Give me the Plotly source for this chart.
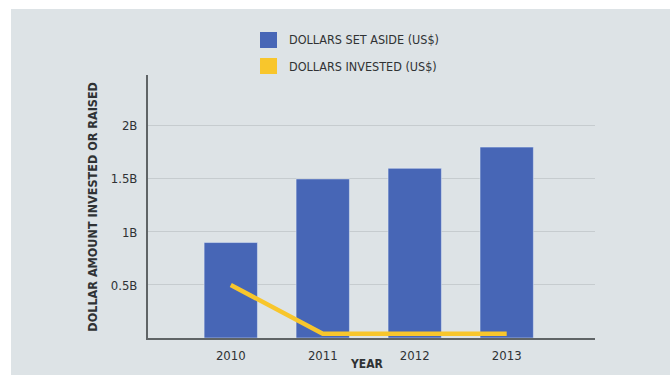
import plotly.graph_objects as go

# Chart data (billions of US dollars)
years = ["2010", "2011", "2012", "2013"]
set_aside = [0.9, 1.5, 1.6, 1.8]
invested = [0.5, 0.04, 0.04, 0.04]
y_tick_vals = [0.5, 1.0, 1.5, 2.0]
y_tick_text = ["0.5B", "1B", "1.5B", "2B"]
legend_names = ["DOLLARS SET ASIDE (US$)", "DOLLARS INVESTED (US$)"]

BLUE = "#4766b6"
YELLOW = "#f8c62c"
BG = "#dde3e6"
TEXT = "#2f3234"
FONT = "DejaVu Sans Condensed, Roboto, sans-serif"

fig = go.Figure()
fig.add_trace(go.Bar(x=years, y=set_aside, marker_color=BLUE, width=0.58,
                     name=legend_names[0], showlegend=False))
fig.add_trace(go.Scatter(x=years, y=invested, mode="lines",
                         line=dict(color=YELLOW, width=4.5),
                         name=legend_names[1], showlegend=False))

# Legend swatches and labels
shapes = []
annotations = []
for i, (name, color) in enumerate(zip(legend_names, [BLUE, YELLOW])):
    y0 = 1.1027 - i * 0.0989
    shapes.append(dict(type="rect", xref="paper", yref="paper",
                       x0=0.2506, x1=0.2886, y0=y0, y1=y0 + 0.0608,
                       fillcolor=color, line_width=0))
    annotations.append(dict(text=name, xref="paper", yref="paper",
                            x=0.311, y=y0 + 0.0304, xanchor="left", yanchor="middle",
                            showarrow=False, font=dict(size=12.5, color=TEXT, family=FONT)))

# White frame strips on the top and left edges
shapes.append(dict(type="rect", xref="paper", yref="paper", x0=-0.34, x1=1.2,
                   y0=1.251, y1=1.3, fillcolor="white", line_width=0, layer="above"))
shapes.append(dict(type="rect", xref="paper", yref="paper", x0=-0.34, x1=-0.3065,
                   y0=-0.2, y1=1.3, fillcolor="white", line_width=0, layer="above"))

annotations.append(dict(text="<b>DOLLAR AMOUNT INVESTED OR RAISED</b>", xref="paper",
                        yref="paper", x=-0.125, y=0.5, textangle=-90,
                        xanchor="center", yanchor="middle", showarrow=False,
                        font=dict(size=12.5, color=TEXT, family=FONT)))
annotations.append(dict(text="<b>YEAR</b>", xref="paper", yref="paper",
                        x=0.49, y=-0.1, xanchor="center", yanchor="middle",
                        showarrow=False, font=dict(size=12, color=TEXT, family=FONT)))

fig.update_layout(
    width=670, height=375,
    margin=dict(l=148, r=75, t=75, b=37),
    paper_bgcolor=BG, plot_bgcolor=BG,
    font=dict(family=FONT, color=TEXT, size=13),
    shapes=shapes, annotations=annotations,
    showlegend=False,
)
fig.update_xaxes(type="category", range=[-0.9, 3.96], showgrid=False,
                 showline=True, linecolor="#5f6466", linewidth=2,
                 ticks="", tickfont=dict(size=13), ticklabelstandoff=4)
fig.update_yaxes(range=[0, 2.48], tickvals=y_tick_vals, ticktext=y_tick_text,
                 showgrid=True, gridcolor="#c6cccf", gridwidth=1,
                 showline=True, linecolor="#5f6466", linewidth=2,
                 zeroline=False, ticks="", tickfont=dict(size=13),
                 ticklabelstandoff=6)

fig.write_html("out.html")
